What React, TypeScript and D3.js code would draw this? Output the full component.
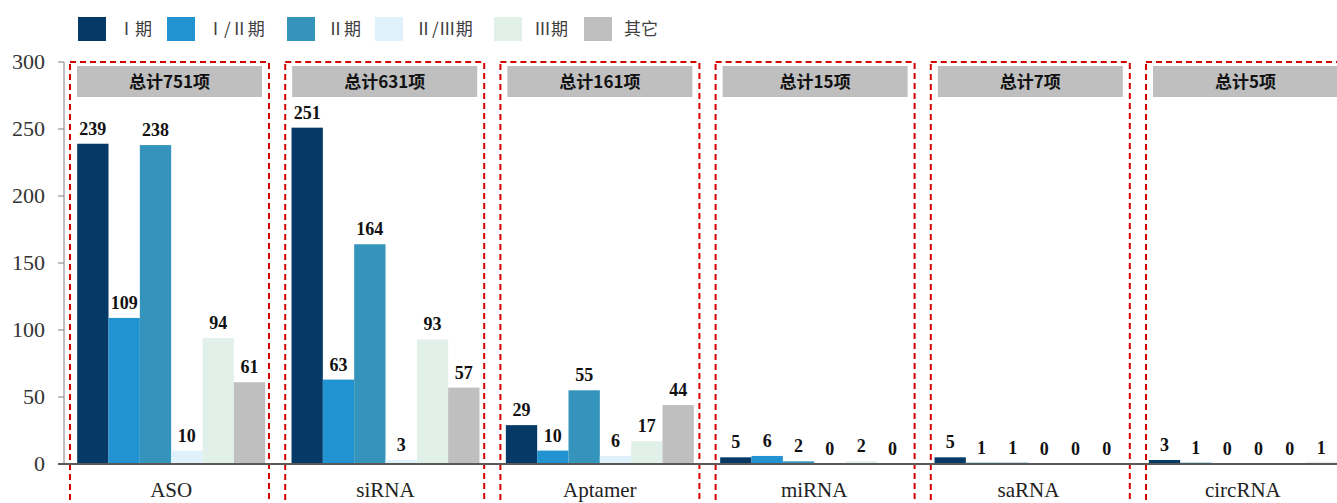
import React, { useEffect, useRef } from "react";
import * as d3 from "d3";

const categories = ["ASO", "siRNA", "Aptamer", "miRNA", "saRNA", "circRNA"];
const phases = ["Ⅰ期", "Ⅰ/Ⅱ期", "Ⅱ期", "Ⅱ/Ⅲ期", "Ⅲ期", "其它"];
const phaseColors = ["#063a66", "#2193d1", "#3594bc", "#dff2fc", "#e2f0ea", "#bfbfbf"];
const phase1 = [239, 251, 29, 5, 5, 3];
const phase12 = [109, 63, 10, 6, 1, 1];
const phase2 = [238, 164, 55, 2, 1, 0];
const phase23 = [10, 3, 6, 0, 0, 0];
const phase3 = [94, 93, 17, 2, 0, 0];
const others = [61, 57, 44, 0, 0, 1];
const yTicks = [0, 50, 100, 150, 200, 250, 300];

const W = 1337;
const H = 503;
const serif = "'Liberation Serif', 'DejaVu Serif', serif";
const cjk = "'Noto Sans CJK SC', sans-serif";

export default function App() {
  const ref = useRef<SVGSVGElement | null>(null);

  useEffect(() => {
    if (!ref.current) return;
    const svg = d3.select(ref.current);
    svg.selectAll("*").remove();

    const series = [phase1, phase12, phase2, phase23, phase3, others];
    const rows = categories.map((c, i) => ({
      name: c,
      values: series.map((s) => s[i]),
      total: d3.sum(series, (s) => s[i]),
    }));

    const y = d3.scaleLinear().domain([0, 300]).range([464, 62]);
    const x0 = d3
      .scaleBand<string>()
      .domain(categories)
      .range([64, 1350])
      .paddingInner(0.123)
      .paddingOuter(0.0615);
    const x1 = d3
      .scaleBand<string>()
      .domain(phases)
      .range([0, x0.bandwidth()]);
    // dashed frames sit on a slightly wider step than the bars
    const xBox = d3
      .scaleBand<string>()
      .domain(categories)
      .range([70, 1345])
      .paddingInner(0.0753)
      .paddingOuter(0);
    const color = d3.scaleOrdinal<string, string>().domain(phases).range(phaseColors);

    // legend
    const legendX = [78, 167, 287, 375, 494, 584];
    const lg = svg.append("g");
    phases.forEach((p, i) => {
      lg.append("rect")
        .attr("x", legendX[i])
        .attr("y", 17)
        .attr("width", 28)
        .attr("height", 24)
        .attr("fill", color(p));
      lg.append("text")
        .attr("x", legendX[i] + 40)
        .attr("y", 35)
        .attr("font-family", cjk)
        .attr("font-size", 17)
        .attr("fill", "#404040")
        .text(p);
    });

    // y axis
    const ya = svg.append("g");
    ya.append("line")
      .attr("x1", 64).attr("x2", 64)
      .attr("y1", y(300)).attr("y2", y(0))
      .attr("stroke", "#7f7f7f");
    ya.selectAll("line.tick")
      .data(yTicks)
      .join("line")
      .attr("class", "tick")
      .attr("x1", 58).attr("x2", 64)
      .attr("y1", (d) => y(d)).attr("y2", (d) => y(d))
      .attr("stroke", "#7f7f7f");
    ya.selectAll("text")
      .data(yTicks)
      .join("text")
      .attr("x", 45)
      .attr("y", (d) => y(d) + 7)
      .attr("text-anchor", "end")
      .attr("font-family", serif)
      .attr("font-size", 22)
      .attr("fill", "#333")
      .text((d) => d);

    // dashed boxes + headers
    const frames = svg
      .selectAll("g.frame")
      .data(rows)
      .join("g")
      .attr("class", "frame")
      .attr("transform", (d) => `translate(${xBox(d.name)},0)`);
    frames
      .append("rect")
      .attr("x", 0)
      .attr("y", 62)
      .attr("width", xBox.bandwidth())
      .attr("height", 460)
      .attr("fill", "none")
      .attr("stroke", "#d40000")
      .attr("stroke-width", 2)
      .attr("stroke-dasharray", "6,4");
    frames
      .append("rect")
      .attr("x", 7)
      .attr("y", 66)
      .attr("width", 185)
      .attr("height", 31)
      .attr("fill", "#bfbfbf");
    frames
      .append("text")
      .attr("x", 7 + 185 / 2)
      .attr("y", 88)
      .attr("text-anchor", "middle")
      .attr("font-family", cjk)
      .attr("font-weight", "bold")
      .attr("font-size", 17)
      .attr("fill", "#111")
      .text((d) => `总计${d.total}项`);

    const groups = svg
      .selectAll("g.grp")
      .data(rows)
      .join("g")
      .attr("class", "grp")
      .attr("transform", (d) => `translate(${x0(d.name)},0)`);

    // bars
    groups
      .selectAll("rect.bar")
      .data((d) => d.values.map((v, i) => ({ key: phases[i], v })))
      .join("rect")
      .attr("class", "bar")
      .attr("x", (d) => x1(d.key)!)
      .attr("y", (d) => y(d.v))
      .attr("width", x1.bandwidth())
      .attr("height", (d) => y(0) - y(d.v))
      .attr("fill", (d) => color(d.key));

    groups
      .selectAll("text.val")
      .data((d) => d.values.map((v, i) => ({ key: phases[i], v })))
      .join("text")
      .attr("class", "val")
      .attr("x", (d) => x1(d.key)! + x1.bandwidth() / 2)
      .attr("y", (d) => y(d.v) - 9)
      .attr("text-anchor", "middle")
      .attr("font-family", serif)
      .attr("font-weight", "bold")
      .attr("font-size", 18)
      .attr("fill", "#111")
      .text((d) => d.v);

    // baseline
    svg.append("line")
      .attr("x1", 58).attr("x2", W)
      .attr("y1", y(0)).attr("y2", y(0))
      .attr("stroke", "#595959")
      .attr("stroke-width", 2);

    groups
      .append("text")
      .attr("x", x0.bandwidth() / 2)
      .attr("y", 497)
      .attr("text-anchor", "middle")
      .attr("font-family", serif)
      .attr("font-size", 21)
      .attr("fill", "#222")
      .text((d) => d.name);
  }, []);

  return (
    <svg
      ref={ref}
      width={W}
      height={H}
      style={{ position: "absolute", left: 0, top: 0, background: "#fff" }}
    />
  );
}
